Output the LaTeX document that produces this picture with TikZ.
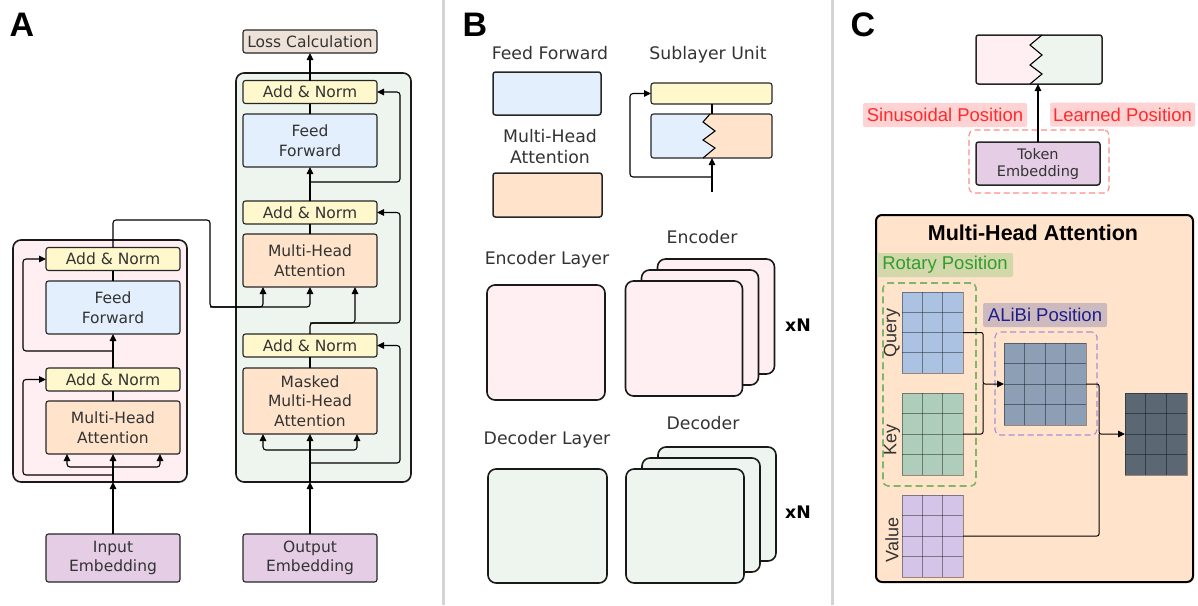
\documentclass[tikz,border=0pt]{standalone}
\usepackage{fontspec}
\setmainfont{DejaVu Sans}
\newfontfamily\arialfont{Liberation Sans}
\usepackage{tikz}
\usetikzlibrary{arrows.meta,calc,positioning}

\definecolor{encpink}{HTML}{FFEEF2}
\definecolor{decgreen}{HTML}{EEF5EE}
\definecolor{normyellow}{HTML}{FFF8CC}
\definecolor{ffblue}{HTML}{E3EFFC}
\definecolor{mhaorange}{HTML}{FFE3CA}
\definecolor{embpurple}{HTML}{E5CDE6}
\definecolor{lossbeige}{HTML}{EEE2D8}
\definecolor{txtgray}{HTML}{333333}
\definecolor{divgray}{HTML}{D4D4D4}
\definecolor{qblue}{HTML}{ABC2E2}
\definecolor{kgreen}{HTML}{AFCDBB}
\definecolor{vpurple}{HTML}{D4C4E8}
\definecolor{sslate}{HTML}{8C9FB5}
\definecolor{odark}{HTML}{5B6873}
\definecolor{sinred}{HTML}{FF2A2A}
\definecolor{sinfill}{HTML}{FFD3D3}
\definecolor{rotgreen}{HTML}{2F9E2F}
\definecolor{rotfill}{HTML}{D3D8AA}
\definecolor{rotdash}{HTML}{7DB86A}
\definecolor{alibiblue}{HTML}{1E1E8C}
\definecolor{alibifill}{HTML}{CDBABF}
\definecolor{alibidash}{HTML}{A58FD8}

\tikzset{
  arr/.style={-{Triangle[length=7pt,width=6.5pt]}},
  blk/.style={draw=black!85, line width=1.1pt, rounded corners=2.5pt, inner sep=0pt, outer sep=0pt,
    align=center, text=txtgray, font=\fontsize{15.5}{19.5}\selectfont, minimum width=134pt},
  normbox/.style={blk, fill=normyellow, minimum height=23pt},
  ffbox/.style={blk, fill=ffblue, minimum height=53pt},
  mhabox/.style={blk, fill=mhaorange, minimum height=53pt},
  embbox/.style={blk, fill=embpurple, minimum height=48pt},
  layerbox/.style={draw=black!90, line width=1.6pt, rounded corners=8pt, inner sep=0pt, outer sep=0pt},
  lbl/.style={text=txtgray, font=\fontsize{17.3}{21}\selectfont, align=center},
  xnlbl/.style={font=\bfseries\fontsize{17.3}{21}\selectfont},
  mtx/.style={draw=black, draw opacity=0.4, line width=0.8pt, inner sep=0pt, outer sep=0pt, minimum width=61pt},
  gridln/.style={draw=black, draw opacity=0.4, line width=0.8pt},
  poslbl/.style={rounded corners=2pt, inner sep=0pt, font=\arialfont\fontsize{18.5}{20}\selectfont, minimum height=24pt},
  qkvlbl/.style={rotate=90, text=txtgray, font=\arialfont\fontsize{18}{20}\selectfont},
  fitbox/.style={dash pattern=on 6pt off 3.5pt, rounded corners=5pt, inner sep=0pt},
  panel/.style={font=\arialfont\bfseries\fontsize{34}{36}\selectfont},
}

\begin{document}
\begin{tikzpicture}[x=1pt,y=-1pt,line width=1.1pt]
\useasboundingbox (0,0) rectangle (1198,605);
\draw[divgray,line width=3pt](443,0)--(443,605);
\draw[divgray,line width=3pt](832,0)--(832,605);
\node[panel] (panela) at (22,25) {A};
\node[panel] (panelb) at (475,25) {B};
\node[panel] (panelc) at (863,25) {C};

% panel A, encoder
\node[layerbox,fill=encpink,minimum width=174pt,minimum height=242pt] (encbox) at (100,361) {};
\node[normbox] (encan2) at (113,259) {Add \& Norm};
\node[ffbox] (encff) at (113,307.5) {Feed\\Forward};
\node[normbox] (encan1) at (113,379.5) {Add \& Norm};
\node[mhabox] (encmha) at (113,427.5) {Multi-Head\\Attention};
\node[embbox] (inemb) at (113,558) {Input\\Embedding};
\draw[arr](inemb.north)--(inemb.north |- encbox.south);
\draw[arr](inemb.north |- encbox.south)--(encmha.south);
\draw[arr,rounded corners=3pt]($(encmha.south)+(0,13)$)-|($(encmha.south)+(-46,0)$);
\draw[arr,rounded corners=3pt]($(encmha.south)+(0,13)$)-|($(encmha.south)+(47,0)$);
\draw[arr,rounded corners=3pt]($(encmha.south)+(0,21)$)--++(-90,0)|-(encan1.west);
\draw(encmha.north)--(encan1.south);
\draw[arr](encan1.north)--(encff.south);
\draw[arr,rounded corners=3pt]($(encan1.north)+(0,-17)$)--++(-90,0)|-(encan2.west);
\draw(encff.north)--(encan2.south);

% panel A, decoder
\node[layerbox,fill=decgreen,minimum width=175pt,minimum height=409pt] (decbox) at (323.5,277.5) {};
\node[blk,fill=lossbeige,minimum height=23pt] (loss) at (310,41.5) {Loss Calculation};
\node[normbox] (decan3) at (310,92) {Add \& Norm};
\node[ffbox] (decff) at (310,140.5) {Feed\\Forward};
\node[normbox] (decan2) at (310,212.5) {Add \& Norm};
\node[mhabox] (decmha) at (310,260.5) {Multi-Head\\Attention};
\node[normbox] (decan1) at (310,345.5) {Add \& Norm};
\node[mhabox,minimum height=66pt] (decmmha) at (310,401) {Masked\\Multi-Head\\Attention};
\node[embbox] (outemb) at (310,558) {Output\\Embedding};
\draw[arr](outemb.north)--(outemb.north |- decbox.south);
\draw[arr](outemb.north |- decbox.south)--(decmmha.south);
\draw[arr,rounded corners=3pt]($(decmmha.south)+(0,16)$)-|($(decmmha.south)+(-47,0)$);
\draw[arr,rounded corners=3pt]($(decmmha.south)+(0,16)$)-|($(decmmha.south)+(47,0)$);
\draw[arr,rounded corners=3pt]($(decmmha.south)+(0,29)$)--++(90,0)|-(decan1.east);
\draw(decmmha.north)--(decan1.south);
\draw[arr,rounded corners=3pt](decan1.north)--++(0,-11)-|([xshift=45pt]decmha.south);
\draw[arr,rounded corners=3pt]($(decan1.north)+(0,-11)$)--++(90,0)|-(decan2.east);
\draw(decmha.north)--(decan2.south);
\draw[arr](decan2.north)--(decff.south);
\draw[arr,rounded corners=3pt]($(decan2.north)+(0,-19)$)--++(90,0)|-(decan3.east);
\draw(decff.north)--(decan3.south);
\draw[arr](decan3.north)--(loss.south);
% encoder output into decoder
\coordinate (memory) at (210,307);
\draw[arr,rounded corners=3pt](encan2.north)|-(210,220)--(memory)-|([xshift=-47pt]decmha.south);
\draw[arr,rounded corners=3pt](memory)-|(decmha.south);

% panel B
\node[lbl] (fflbl) at (550,53) {Feed Forward};
\node[blk,fill=ffblue,minimum width=108pt,minimum height=43pt,line width=1.5pt] (ffkey) at (547,93.5) {};
\node[lbl] (mhalbl) at (550,147) {Multi-Head\\Attention};
\node[blk,fill=mhaorange,minimum width=109pt,minimum height=44pt,line width=1.5pt] (mhakey) at (547.5,195) {};
\node[lbl] (sublbl) at (708,55) {Sublayer Unit};
\node[blk,fill=normyellow,minimum width=121pt,minimum height=21pt] (subadd) at (711.5,93.5) {};
\begin{scope}
\clip[rounded corners=2.5pt](651,114) rectangle (772,158);
\fill[ffblue](651,114)--(710,114)--(703,122)--(715,131)--(703,140)--(715,148)--(703,158)--(651,158)--cycle;
\fill[mhaorange](772,114)--(710,114)--(703,122)--(715,131)--(703,140)--(715,148)--(703,158)--(772,158)--cycle;
\end{scope}
\node[blk,minimum width=121pt,minimum height=44pt] (subbox) at (711.5,136) {};
\draw(710,114)--(703,122)--(715,131)--(703,140)--(715,148)--(703,158);
\coordinate (subin) at (712,192);
\draw(subadd.south -| subin)--(subbox.north -| subin);
\draw[arr](subin)--(subin |- subbox.south);
\draw[arr,rounded corners=3pt]($(subin)+(0,-15)$)--++(-82,0)|-(subadd.west);

\node[lbl] (enclayerlbl) at (547,260) {Encoder Layer};
\node[layerbox,fill=encpink,minimum width=118pt,minimum height=115pt] (enclayer) at (546,342.5) {};
\node[lbl] (encstacklbl) at (702,237) {Encoder};
\foreach \i in {2,1,0}
  \node[layerbox,fill=encpink,minimum width=117pt,minimum height=115pt] (encstack\i) at (684+16*\i,338.5-11*\i) {};
\node[xnlbl] (encxn) at (798,325) {xN};

\node[lbl] (declayerlbl) at (547,440) {Decoder Layer};
\node[layerbox,fill=decgreen,minimum width=119pt,minimum height=114pt] (declayer) at (547.5,526) {};
\node[lbl] (decstacklbl) at (703,423) {Decoder};
\foreach \i in {2,1,0}
  \node[layerbox,fill=decgreen,minimum width=118pt,minimum height=114pt] (decstack\i) at (685+16*\i,526-11*\i) {};
\node[xnlbl] (decxn) at (798,512) {xN};

% panel C, positional encodings
\begin{scope}
\clip[rounded corners=3pt](976,35) rectangle (1102,84);
\fill[encpink](976,35)--(1042,35)--(1030,45)--(1042,55)--(1030,65)--(1042,74)--(1030,84)--(976,84)--cycle;
\fill[decgreen](1102,35)--(1042,35)--(1030,45)--(1042,55)--(1030,65)--(1042,74)--(1030,84)--(1102,84)--cycle;
\end{scope}
\node[blk,minimum width=126pt,minimum height=49pt,line width=1.5pt] (posbox) at (1039,59.5) {};
\draw(1042,35)--(1030,45)--(1042,55)--(1030,65)--(1042,74)--(1030,84);
\node[fitbox,draw=red!45,line width=1.1pt,minimum width=140pt,minimum height=63pt] (tokfit) at (1039,161.5) {};
\node[blk,fill=embpurple,minimum width=124pt,minimum height=43pt,line width=1.5pt,font=\fontsize{14.5}{17}\selectfont] (tokemb) at (1038,163.5) {Token\\Embedding};
\draw[arr,line width=1.5pt](tokemb.north)--(tokemb.north |- posbox.south);
\node[poslbl,fill=sinfill,text=sinred,minimum width=164pt] (sinlbl) at (945,115) {Sinusoidal Position};
\node[poslbl,fill=sinfill,text=sinred,minimum width=145pt] (learnlbl) at (1122.5,114.5) {Learned Position};

% panel C, attention
\node[draw=black,line width=2pt,rounded corners=6pt,fill=mhaorange,inner sep=0pt,minimum width=317pt,minimum height=367pt] (attnbox) at (1034.5,398.5) {};
\node[font=\arialfont\bfseries\fontsize{21.5}{24}\selectfont] (attntitle) at (1033,233) {Multi-Head Attention};
\node[poslbl,fill=rotfill,text=rotgreen,minimum width=136pt] (rotlbl) at (945,265) {Rotary Position};
\node[fitbox,draw=rotdash,line width=1.6pt,dash pattern=on 7pt off 4pt,minimum width=93pt,minimum height=203pt] (rotfit) at (929.5,384.5) {};
\node[poslbl,fill=alibifill,text=alibiblue,minimum width=124pt] (alibilbl) at (1045,315) {ALiBi Position};
\node[fitbox,draw=alibidash,line width=1.1pt,minimum width=102pt,minimum height=103pt] (alibifit) at (1046,383.5) {};
\node[mtx,fill=qblue,minimum height=81pt] (q) at (932.5,332.5) {};
\node[mtx,fill=kgreen,minimum height=82pt] (k) at (932.5,434) {};
\node[mtx,fill=vpurple,minimum height=82pt] (v) at (932.5,536) {};
\node[mtx,fill=sslate,minimum width=82pt,minimum height=82pt] (s) at (1045,384) {};
\node[mtx,fill=odark,minimum width=62pt,minimum height=82pt] (o) at (1156,434) {};
\foreach \m in {q,k,v,o}{
  \foreach \i in {1,2}
    \draw[gridln]($(\m.north west)!\i/3!(\m.north east)$)--($(\m.south west)!\i/3!(\m.south east)$);
  \foreach \j in {1,2,3}
    \draw[gridln]($(\m.north west)!\j/4!(\m.south west)$)--($(\m.north east)!\j/4!(\m.south east)$);
}
\foreach \i in {1,2,3}{
  \draw[gridln]($(s.north west)!\i/4!(s.north east)$)--($(s.south west)!\i/4!(s.south east)$);
  \draw[gridln]($(s.north west)!\i/4!(s.south west)$)--($(s.north east)!\i/4!(s.south east)$);
}
\node[qkvlbl] (qlbl) at (892,333) {Query};
\node[qkvlbl] (klbl) at (892,440) {Key};
\node[qkvlbl] (vlbl) at (892,540) {Value};
\coordinate (qkjoin) at (983,384);
\coordinate (svjoin) at (1099,434);
\draw[arr,line width=1pt,rounded corners=2pt](q.east)-|(qkjoin)--(s.west);
\draw[line width=1pt,rounded corners=2pt](k.east)-|(qkjoin);
\draw[arr,line width=1pt,rounded corners=2pt](s.east)-|(svjoin)--(o.west);
\draw[line width=1pt,rounded corners=2pt](v.east)-|(svjoin);
\end{tikzpicture}
\end{document}
